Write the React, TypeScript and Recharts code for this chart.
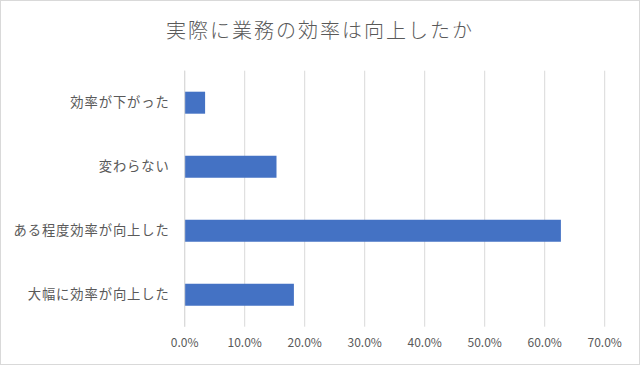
import { Bar, BarChart, CartesianGrid, XAxis, YAxis } from "recharts";

const categories = ["効率が下がった", "変わらない", "ある程度効率が向上した", "大幅に効率が向上した"];
const shares = [0.034, 0.153, 0.627, 0.182];
const xTicks = [0, 0.1, 0.2, 0.3, 0.4, 0.5, 0.6, 0.7];

const data = categories.map((name, i) => ({ name, value: shares[i] }));

const FONT = '"Noto Sans CJK JP", "Noto Sans", sans-serif';
const TEXT = "#595959";

export default function App() {
  return (
    <div
      style={{
        position: "absolute",
        left: 0,
        top: 0,
        width: 640,
        height: 365,
        boxSizing: "border-box",
        border: "1px solid #d9d9d9",
        background: "#fff",
        fontFamily: FONT,
      }}
    >
      <div
        style={{
          position: "absolute",
          top: 14,
          width: "100%",
          textAlign: "center",
          fontSize: 20,
          letterSpacing: 2,
          color: TEXT,
          fontWeight: 300,
        }}
      >
        実際に業務の効率は向上したか
      </div>
      <BarChart
        width={638}
        height={363}
        data={data}
        layout="vertical"
        margin={{ top: 69.7, right: 34.3, bottom: 7.3, left: 0 }}
        barSize={22}
        style={{ position: "absolute", left: 0, top: 0 }}
      >
        <CartesianGrid horizontal={false} stroke="#d9d9d9" />
        <XAxis
          type="number"
          domain={[0, 0.7]}
          ticks={xTicks}
          tickFormatter={(v: number) => `${(v * 100).toFixed(1)}%`}
          axisLine={false}
          tickLine={false}
          tickSize={0}
          tickMargin={12}
          height={30}
          tick={{ fill: TEXT, fontSize: 12, fontFamily: FONT }}
          interval={0}
        />
        <YAxis
          type="category"
          dataKey="name"
          width={183.7}
          axisLine={{ stroke: "#d9d9d9" }}
          tickLine={false}
          tickSize={0}
          tickMargin={15}
          tick={{ fill: TEXT, fontSize: 13.3, fontFamily: FONT, letterSpacing: 0.9 }}
          interval={0}
        />
        <Bar dataKey="value" fill="#4472C4" isAnimationActive={false} />
      </BarChart>
    </div>
  );
}
